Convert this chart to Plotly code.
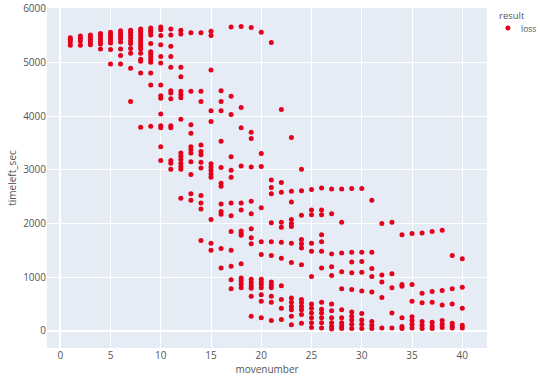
import plotly.graph_objects as go

# Move numbers (x categories) and the time-left values observed at each move
moves = list(range(1, 41))

timeleft_by_move = [
    [5460, 5420, 5380, 5320],                                    # 1
    [5490, 5450, 5400, 5320],                                    # 2
    [5510, 5470, 5420, 5380, 5330],                              # 3
    [5540, 5490, 5440, 5390, 5340, 5250],                        # 4
    [5560, 5510, 5460, 5410, 5360, 5240, 4970],                  # 5
    [5590, 5540, 5490, 5440, 5380, 5250, 5130, 4970],            # 6
    [5600, 5560, 5510, 5460, 5400, 5350, 5260, 5170, 4890, 4270],  # 7
    [5620, 5580, 5540, 5490, 5440, 5390, 5340, 5290, 5250, 5170, 5060, 5020, 4800, 3790],  # 8
    [5640, 5600, 5560, 5510, 5350, 5200, 5150, 5100, 5050, 5000, 4800, 4580, 3810],  # 9
    [5660, 5610, 5500, 5330, 5110, 4990, 4580, 4380, 4330, 4040, 3820, 3780, 3430, 3170],  # 10
    [5620, 5510, 5300, 5110, 4910, 4470, 4430, 4320, 3820, 3780, 3170, 3120, 3010],  # 11
    [5600, 5530, 4910, 4730, 4460, 4400, 4340, 3940, 3310, 3250, 3190, 3120, 3060, 3010, 2470],  # 12
    [5550, 4460, 3840, 3680, 3430, 3370, 3310, 3150, 2910, 2550, 2430],  # 13
    [5550, 4460, 4270, 3460, 3340, 3280, 3140, 3030, 2520, 2380, 2270, 1680],  # 14
    [5580, 5500, 4860, 4100, 3900, 3110, 3050, 2990, 2920, 2860, 2070, 1630, 1500],  # 15
    [4470, 4270, 4100, 3530, 3040, 2750, 2690, 2360, 2220, 2170, 1530, 1170],  # 16
    [5660, 4370, 4030, 3240, 2990, 2860, 2380, 2140, 1850, 1500, 1200, 950, 780],  # 17
    [5670, 4160, 3780, 3070, 2380, 2250, 1860, 1810, 1780, 1250, 980, 930, 870, 800],  # 18
    [5650, 3700, 3580, 3050, 2410, 2180, 1900, 1730, 1620, 960, 900, 840, 790, 640, 270],  # 19
    [5560, 3300, 3060, 2290, 1660, 1420, 960, 910, 860, 800, 670, 550, 240],  # 20
    [5370, 2810, 2670, 2550, 2010, 1660, 1400, 910, 850, 800, 640, 530, 190],  # 21
    [4120, 2760, 2580, 2020, 1930, 1650, 1350, 840, 580, 420, 210],  # 22
    [3600, 2600, 2400, 2070, 2000, 1940, 1630, 1270, 610, 530, 450, 390, 270, 110],  # 23
    [3010, 2610, 2150, 1700, 1620, 1540, 1230, 580, 520, 450, 390, 300, 140],  # 24
    [2630, 2250, 2160, 1630, 1480, 1010, 500, 420, 330, 240, 150, 60],  # 25
    [2660, 2250, 2160, 1790, 1660, 1480, 1170, 530, 400, 330, 240, 150, 50],  # 26
    [2640, 2180, 1430, 1190, 1030, 500, 370, 240, 150, 80, 30],  # 27
    [2640, 2020, 1450, 1100, 780, 390, 240, 150, 90, 40],  # 28
    [2650, 1460, 1280, 1080, 770, 350, 270, 200, 120, 40],  # 29
    [2650, 1460, 1290, 1090, 740, 320, 200, 120, 40],  # 30
    [2430, 1460, 1160, 1010, 720, 170, 100, 40],  # 31
    [2000, 1040, 910, 620, 50],  # 32
    [2020, 1060, 800, 330, 50],  # 33
    [1790, 860, 830, 240, 80, 40],  # 34
    [1810, 860, 550, 260, 190, 120, 50],  # 35
    [1820, 700, 520, 170, 100, 40],  # 36
    [1850, 730, 530, 160, 90, 40],  # 37
    [1870, 750, 480, 190, 120, 60],  # 38
    [1400, 780, 500, 140, 90, 50],  # 39
    [1340, 810, 420, 100, 50],  # 40
]

legend_title = "result"
result_label = "loss"
marker_color = "#e3001b"

xs, ys = [], []
for m, vals in zip(moves, timeleft_by_move):
    for v in vals:
        xs.append(m)
        ys.append(v)

fig = go.Figure()
fig.add_trace(go.Scatter(
    x=xs, y=ys, mode="markers", name=result_label,
    marker=dict(color=marker_color, size=5),
    showlegend=False,
))

grey = "#555555"

# Compact legend (title, symbol, label) drawn in paper coordinates
fig.add_annotation(xref="paper", yref="paper", x=1.0227, y=0.979,
                   xanchor="left", yanchor="middle", showarrow=False,
                   text=legend_title, font=dict(size=9.5, color=grey))
fig.add_annotation(xref="paper", yref="paper", x=1.073, y=0.941,
                   xanchor="left", yanchor="middle", showarrow=False,
                   text=result_label, font=dict(size=8.5, color=grey))
fig.add_shape(type="circle", xref="paper", yref="paper",
              xsizemode="pixel", ysizemode="pixel",
              xanchor=1.0477, yanchor=0.941, x0=-2.5, x1=2.5, y0=-2.5, y1=2.5,
              fillcolor=marker_color, line=dict(width=0))

fig.update_layout(
    template="plotly",
    width=540, height=378,
    margin=dict(l=47, r=53, t=8, b=30, autoexpand=False),
    font=dict(family="Open Sans, sans-serif", size=10, color=grey),
    showlegend=False,
    xaxis=dict(title=dict(text="movenumber", font=dict(size=10, color=grey), standoff=4),
               range=[-1.32, 42.46], dtick=5, automargin=False,
               tickfont=dict(size=10, color=grey)),
    yaxis=dict(title=dict(text="timeleft_sec", font=dict(size=10, color=grey), standoff=4),
               range=[-322, 6013], dtick=1000, automargin=False,
               tickfont=dict(size=10, color=grey)),
)

fig.write_html("out.html", config={"displayModeBar": False},
               post_script="document.body.style.margin='0px';document.body.style.overflow='hidden';")
